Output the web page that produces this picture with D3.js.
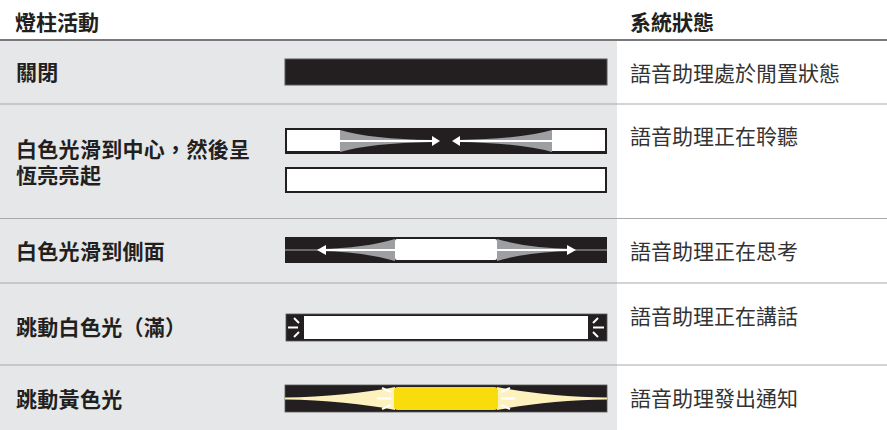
<!DOCTYPE html>
<html><head><meta charset="utf-8">
<script src="https://cdn.jsdelivr.net/npm/d3@7"></script>
<style>html,body{margin:0;padding:0;background:#fff;}svg{display:block;}</style>
</head><body>
<script>
// ---- data ----
const headers = ["燈柱活動", "系統狀態"];
const activities = [["關閉"], ["白色光滑到中心，然後呈", "恆亮亮起"], ["白色光滑到側面"], ["跳動白色光（滿）"], ["跳動黃色光"]];
const statuses = ["語音助理處於閒置狀態", "語音助理正在聆聽", "語音助理正在思考", "語音助理正在講話", "語音助理發出通知"];
const patterns = [["off"], ["converge", "solid"], ["diverge"], ["pulseWhite"], ["pulseYellow"]];

// ---- layout ----
const W = 887, H = 430;
const rowEdges = [41, 104, 218.5, 283, 365, 430];
const labelY = [[71], [148, 174], [250], [326], [398]];
const statusY = [72, 135, 250, 315, 397];
const barTops = [[59], [128, 167], [237], [314], [385]];
const BAR_H = 26;
const dark = "#231f20", panel = "#e6e7e8";

const svg = d3.select("body").append("svg").attr("width", W).attr("height", H)
  .style("font-family", "'Noto Sans CJK TC','Noto Sans CJK SC',sans-serif");

// local bar coordinate -> page x
const bx = d3.scaleLinear().domain([0, 322]).range([285, 607]);

svg.append("rect").attr("x", 0).attr("y", rowEdges[0]).attr("width", 617).attr("height", H - rowEdges[0]).attr("fill", panel);

// headers
svg.selectAll("text.hdr").data(headers).join("text").attr("class", "hdr")
  .attr("x", (d, i) => i === 0 ? 15 : 630).attr("y", 21)
  .attr("dominant-baseline", "central").attr("font-size", 21).attr("font-weight", 700)
  .attr("fill", dark).text(d => d);
svg.append("line").attr("x1", 0).attr("x2", W).attr("y1", 40).attr("y2", 40).attr("stroke", "#4d4d4f").attr("stroke-width", 1.5);

// separators
svg.selectAll("line.sep").data(rowEdges.slice(1, -1)).join("line").attr("class", "sep")
  .attr("x1", 0).attr("x2", W).attr("y1", d => d).attr("y2", d => d)
  .attr("stroke", "#a7a9ac").attr("stroke-width", 1);

// activity labels (one text element per row, lines as tspans)
svg.selectAll("text.act").data(activities).join("text").attr("class", "act")
  .attr("font-size", 21).attr("font-weight", 700).attr("letter-spacing", 0.3)
  .attr("fill", dark)
  .each(function (lines, i) {
    d3.select(this).selectAll("tspan").data(lines).join("tspan")
      .attr("x", 16).attr("y", (d, j) => labelY[i][j])
      .attr("dominant-baseline", "central").text(d => d);
  });
// statuses
svg.selectAll("text.st").data(statuses).join("text").attr("class", "st")
  .attr("x", 630).attr("y", (d, i) => statusY[i])
  .attr("dominant-baseline", "central").attr("font-size", 21)
  .attr("fill", "#333").text(d => d);

// bar drawing
function line(g, x1, y1, x2, y2, c, w) {
  g.append("line").attr("x1", bx(x1)).attr("y1", y1).attr("x2", bx(x2)).attr("y2", y2)
    .attr("stroke", c).attr("stroke-width", w);
}
function poly(g, pts, c) {
  g.append("path").attr("d", "M" + pts.map(p => bx(p[0]) + "," + p[1]).join("L") + "Z").attr("fill", c);
}
function path(g, d, c) { g.append("path").attr("d", d).attr("fill", c); }
function P(x, y) { return bx(x) + "," + y; }

const draw = {
  off(g) {
    g.append("rect").attr("x", bx(0)).attr("y", 0).attr("width", bx(322) - bx(0)).attr("height", BAR_H)
      .attr("fill", dark).attr("stroke", "#58595b").attr("stroke-width", 1);
  },
  converge(g) {
    g.append("rect").attr("x", bx(0)).attr("y", 0).attr("width", bx(322) - bx(0)).attr("height", BAR_H).attr("fill", dark);
    path(g, `M${P(55,2)} Q${P(85,11)} ${P(148,12)} L${P(148,14)} Q${P(85,15)} ${P(55,24)} Z`, "#9d9fa2");
    path(g, `M${P(267,2)} Q${P(237,11)} ${P(172,12)} L${P(172,14)} Q${P(237,15)} ${P(267,24)} Z`, "#9d9fa2");
    g.append("rect").attr("x", bx(2)).attr("y", 2).attr("width", 53).attr("height", 21).attr("fill", "#fff");
    g.append("rect").attr("x", bx(267)).attr("y", 2).attr("width", 53).attr("height", 21).attr("fill", "#fff");
    line(g, 55, 13, 148, 13, "#fff", 2);
    poly(g, [[147, 8], [155, 13], [147, 18]], "#fff");
    line(g, 267, 13, 175, 13, "#fff", 2);
    poly(g, [[175, 8], [167, 13], [175, 18]], "#fff");
  },
  solid(g) {
    g.append("rect").attr("x", bx(1)).attr("y", 1).attr("width", 320).attr("height", 24)
      .attr("fill", "#fff").attr("stroke", dark).attr("stroke-width", 2);
  },
  diverge(g) {
    g.append("rect").attr("x", bx(0)).attr("y", 0).attr("width", bx(322) - bx(0)).attr("height", BAR_H).attr("fill", dark);
    line(g, 0, 13, 322, 13, "#b0b0b0", 1.2);
    path(g, `M${P(110,2)} Q${P(80,11)} ${P(34,12)} L${P(34,14)} Q${P(80,15)} ${P(110,24)} Z`, "#9d9fa2");
    path(g, `M${P(212,2)} Q${P(242,11)} ${P(289,12)} L${P(289,14)} Q${P(242,15)} ${P(212,24)} Z`, "#9d9fa2");
    line(g, 36, 13, 287, 13, "#fff", 2);
    poly(g, [[32, 13], [41, 8], [41, 18]], "#fff");
    poly(g, [[291, 13], [282, 8], [282, 18]], "#fff");
    g.append("rect").attr("x", bx(110)).attr("y", 2).attr("width", 102).attr("height", 21).attr("rx", 2).attr("fill", "#fff");
  },
  pulseWhite(g) {
    g.append("rect").attr("x", bx(1)).attr("y", 0).attr("width", 321).attr("height", 27).attr("fill", dark)
      .attr("stroke", "#58595b").attr("stroke-width", 0.8);
    g.append("rect").attr("x", bx(19)).attr("y", 2).attr("width", 284).attr("height", 23).attr("fill", "#fff");
    line(g, 3, 13.5, 13, 13.5, "#fff", 2);
    line(g, 9, 4, 14, 9, "#fff", 2);
    line(g, 9, 23, 14, 18, "#fff", 2);
    line(g, 308, 13.5, 319, 13.5, "#fff", 2);
    line(g, 308, 9, 313, 4, "#fff", 2);
    line(g, 308, 18, 313, 23, "#fff", 2);
  },
  pulseYellow(g) {
    g.append("rect").attr("x", bx(0)).attr("y", 0).attr("width", bx(322) - bx(0)).attr("height", 27).attr("fill", dark)
      .attr("stroke", "#58595b").attr("stroke-width", 0.8);
    path(g, `M${P(0,12.5)} C${P(40,12)} ${P(80,8)} ${P(110,2)} L${P(110,25)} C${P(80,19)} ${P(40,15)} ${P(0,14.5)} Z`, "#fdf1bd");
    path(g, `M${P(322,12.5)} C${P(282,12)} ${P(242,8)} ${P(212,2)} L${P(212,25)} C${P(242,19)} ${P(282,15)} ${P(322,14.5)} Z`, "#fdf1bd");
    g.append("rect").attr("x", bx(109)).attr("y", 2).attr("width", 104).attr("height", 23).attr("rx", 4).attr("fill", "#f9dc0b");
    line(g, 92, 13.5, 106, 13.5, "#fff", 2.2);
    line(g, 106, 7, 97, 3, "#fff", 2.2);
    line(g, 106, 20, 97, 24, "#fff", 2.2);
    line(g, 216, 13.5, 230, 13.5, "#fff", 2.2);
    line(g, 216, 7, 225, 3, "#fff", 2.2);
    line(g, 216, 20, 225, 24, "#fff", 2.2);
  }
};

patterns.forEach((ps, i) => {
  ps.forEach((p, j) => {
    const g = svg.append("g").attr("transform", `translate(0,${barTops[i][j]})`);
    draw[p](g);
  });
});
</script>
</body></html>
